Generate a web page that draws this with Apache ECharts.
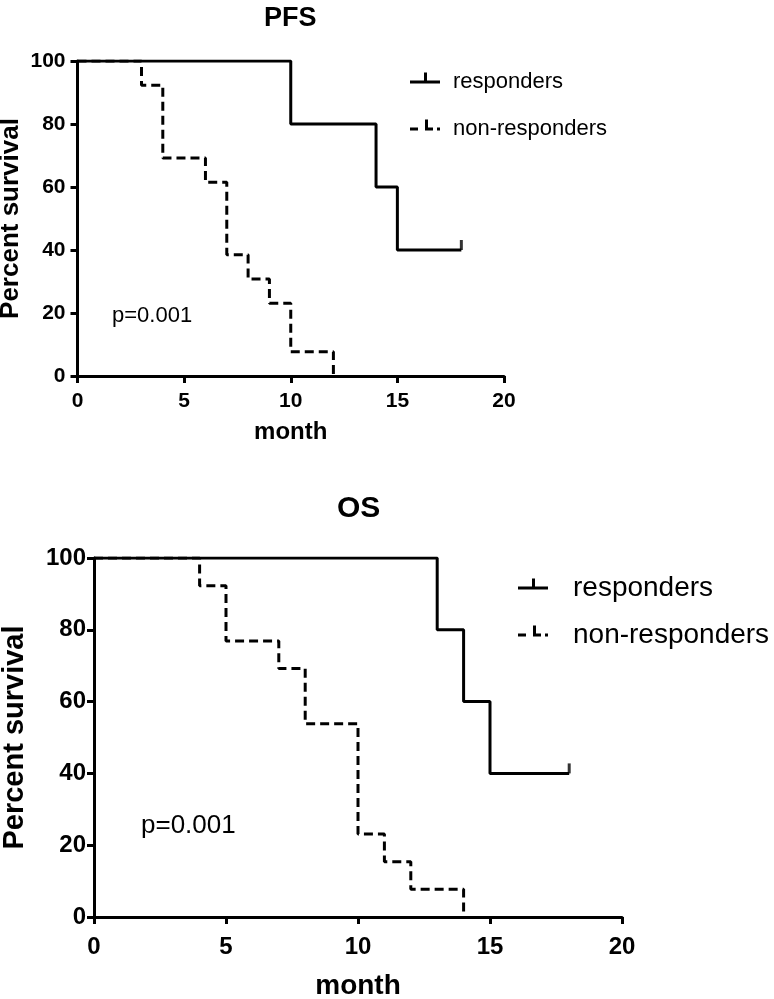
<!DOCTYPE html>
<html>
<head>
<meta charset="utf-8">
<script src="https://cdn.jsdelivr.net/npm/echarts@6/dist/echarts.min.js"></script>
<style>html,body{margin:0;padding:0;background:#fff;}#c{width:774px;height:999px;}</style>
</head>
<body>
<div id="c"></div>
<script>
// ---- data ----
const xTicks = [0, 5, 10, 15, 20];
const yTicks = [0, 20, 40, 60, 80, 100];
const seriesNames = ['responders', 'non-responders'];
// PFS (months, percent survival) — step points
const pfsResponders = [[0, 100], [10, 80], [14, 60], [15, 40], [18, 40]];
const pfsNonResponders = [[0, 100], [3, 92.3], [4, 69.2], [6, 61.5], [7, 38.5], [8, 30.8], [9, 23.1], [10, 7.7], [12, 0]];
const pfsCensored = [[18, 40]];
// OS
const osResponders = [[0, 100], [13, 80], [14, 60], [15, 40], [18, 40]];
const osNonResponders = [[0, 100], [4, 92.3], [5, 76.9], [7, 69.2], [8, 53.8], [10, 23.1], [11, 15.4], [12, 7.7], [14, 0]];
const osCensored = [[18, 40]];
const pText = 'p=0.001';

const FONT = 'Liberation Sans';
const chart = echarts.init(document.getElementById('c'), null, {renderer: 'canvas'});

// leading bare moveTo keeps the icon's bounding box symmetric around the horizontal line
const solidIcon = 'path://M0,19 M0,8h30v3h-30z M14,0h3v8h-3z';
const dashIcon = 'path://M0,19 M0,8h8v3h-8z M15,8h8v3h-8z M15,0h3v8h-3z M27,8h3v3h-3z';

function xAxis(gi, fs, margin, nameFs, nameGap) {
  return {
    type: 'value', gridIndex: gi, min: xTicks[0], max: xTicks[xTicks.length - 1], interval: xTicks[1] - xTicks[0],
    axisLine: {show: true, onZero: false, lineStyle: {color: '#000', width: 3}},
    axisTick: {show: true, length: 7, lineStyle: {color: '#000', width: 3}},
    axisLabel: {color: '#000', fontFamily: FONT, fontWeight: 'bold', fontSize: fs, margin: margin},
    splitLine: {show: false},
    name: 'month', nameLocation: 'middle', nameGap: nameGap, nameMoveOverlap: false,
    nameTextStyle: {color: '#000', fontFamily: FONT, fontWeight: 'bold', fontSize: nameFs}
  };
}
function yAxis(gi, fs, margin, nameFs, nameGap) {
  return {
    type: 'value', gridIndex: gi, min: yTicks[0], max: yTicks[yTicks.length - 1], interval: yTicks[1] - yTicks[0],
    axisLine: {show: true, onZero: false, lineStyle: {color: '#000', width: 3}},
    axisTick: {show: true, length: 7, lineStyle: {color: '#000', width: 3}},
    axisLabel: {color: '#000', fontFamily: FONT, fontWeight: 'bold', fontSize: fs, margin: margin},
    splitLine: {show: false},
    name: 'Percent survival', nameLocation: 'middle', nameGap: nameGap, nameMoveOverlap: false,
    nameTextStyle: {color: '#000', fontFamily: FONT, fontWeight: 'bold', fontSize: nameFs}
  };
}
function kmLine(name, data, gi, dashed) {
  return {
    type: 'line', name: name, data: data, step: 'end', xAxisIndex: gi, yAxisIndex: gi,
    symbol: 'none', color: '#000', silent: true, animation: false,
    lineStyle: {color: '#000', width: 3, type: dashed ? [9, 5] : 'solid'}
  };
}
function censor(data, gi, size) {
  return {
    type: 'scatter', name: 'censored', data: data, xAxisIndex: gi, yAxisIndex: gi,
    symbol: 'rect', symbolSize: [3, size], symbolOffset: [0, -size / 2],
    itemStyle: {color: '#000'}, silent: true, animation: false
  };
}
function legend(left, top, fs, iw, ih, gap, pad) {
  return {
    orient: 'vertical', left: left, top: top, itemWidth: iw, itemHeight: ih, itemGap: gap,
    selectedMode: false,
    data: [
      {name: seriesNames[0], icon: solidIcon},
      {name: seriesNames[1], icon: dashIcon}
    ],
    itemStyle: {color: '#000', borderWidth: 0},
    lineStyle: {width: 0},
    textStyle: {color: '#000', fontFamily: FONT, fontSize: fs, padding: [0, 0, 0, pad]}
  };
}

chart.setOption({
  backgroundColor: '#fff',
  animation: false,
  title: [
    {text: 'PFS', left: 259, top: 0, textStyle: {fontFamily: FONT, fontWeight: 'bold', fontSize: 27, color: '#000'}},
    {text: 'OS', left: 332, top: 489, textStyle: {fontFamily: FONT, fontWeight: 'bold', fontSize: 30, color: '#000'}}
  ],
  grid: [
    {left: 77.5, top: 61, width: 426.5, height: 315, containLabel: false, outerBoundsMode: 'none'},
    {left: 94, top: 558, width: 528, height: 359, containLabel: false, outerBoundsMode: 'none'}
  ],
  xAxis: [xAxis(0, 21, 15, 24, 44), xAxis(1, 24, 18, 28, 55)],
  yAxis: [yAxis(0, 21, 12, 26, 54), yAxis(1, 24, 8, 29, 65)],
  legend: [legend(405, 66, 22, 30, 19, 25, 8), legend(513, 569, 28, 38, 19, 19, 16)],
  series: [
    kmLine(seriesNames[0], pfsResponders, 0, false),
    kmLine(seriesNames[1], pfsNonResponders, 0, true),
    censor(pfsCensored, 0, 10),
    kmLine(seriesNames[0], osResponders, 1, false),
    kmLine(seriesNames[1], osNonResponders, 1, true),
    censor(osCensored, 1, 10)
  ],
  graphic: [
    {type: 'text', left: 112, top: 305, style: {text: pText, fontFamily: FONT, fontSize: 22, fill: '#000'}},
    {type: 'text', left: 141, top: 813, style: {text: pText, fontFamily: FONT, fontSize: 26, fill: '#000'}}
  ]
});
</script>
</body>
</html>
